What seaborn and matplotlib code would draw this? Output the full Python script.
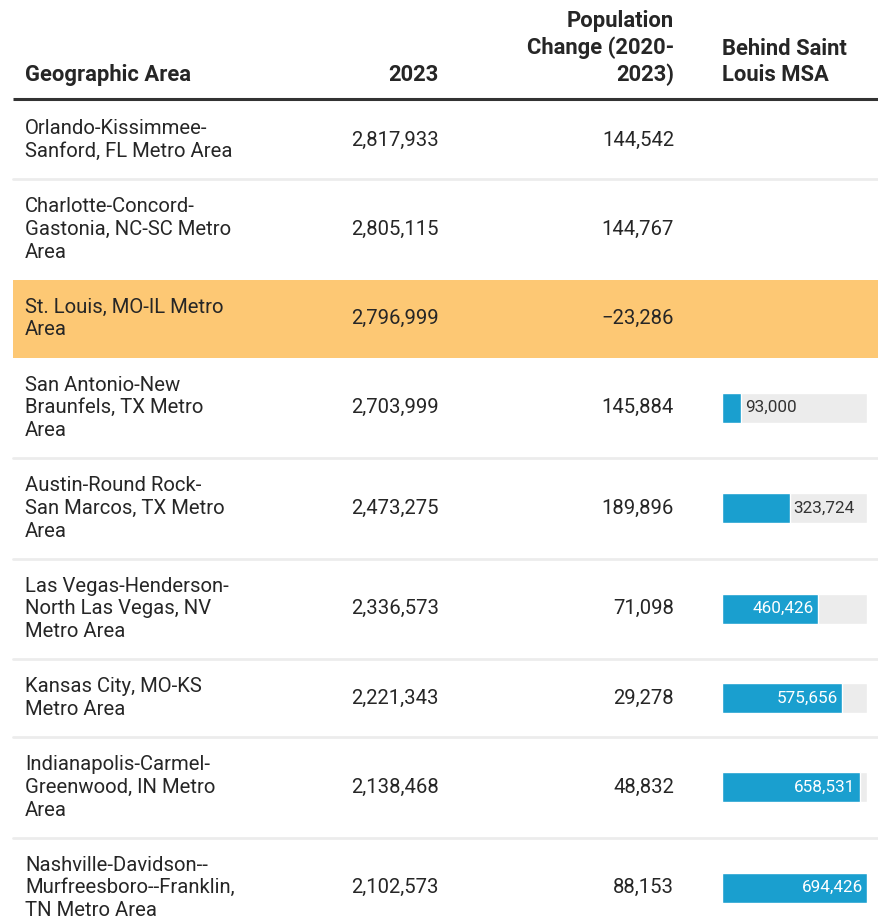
import matplotlib
matplotlib.use("Agg")
import matplotlib.pyplot as plt
import seaborn as sns
import numpy as np
import pandas as pd

# ---- data ----
areas = [
    "Orlando-Kissimmee-\nSanford, FL Metro Area",
    "Charlotte-Concord-\nGastonia, NC-SC Metro\nArea",
    "St. Louis, MO-IL Metro\nArea",
    "San Antonio-New\nBraunfels, TX Metro\nArea",
    "Austin-Round Rock-\nSan Marcos, TX Metro\nArea",
    "Las Vegas-Henderson-\nNorth Las Vegas, NV\nMetro Area",
    "Kansas City, MO-KS\nMetro Area",
    "Indianapolis-Carmel-\nGreenwood, IN Metro\nArea",
    "Nashville-Davidson--\nMurfreesboro--Franklin,\nTN Metro Area",
]
pop_2023 = [2817933, 2805115, 2796999, 2703999, 2473275, 2336573, 2221343, 2138468, 2102573]
pop_change = [144542, 144767, -23286, 145884, 189896, 71098, 29278, 48832, 88153]
behind_stl = [None, None, None, 93000, 323724, 460426, 575656, 658531, 694426]
highlight_row = 2
headers = ["Geographic Area", "2023", "Population\nChange (2020-\n2023)", "Behind Saint\nLouis MSA"]

# ---- style ----
sns.set_theme(style="white")
plt.rcParams["font.family"] = ["Roboto", "DejaVu Sans"]

W, H = 879, 921
fig = plt.figure(figsize=(W / 100, H / 100), dpi=100)
ax = fig.add_axes([0, 0, 1, 1])
ax.set_xlim(0, W)
ax.set_ylim(H, 0)
ax.axis("off")

TXT = "#262626"
BLUE = "#1a9fcf"
GREY_BG = "#ececec"
HL = "#fdc874"
SEP = "#ececec"

x_left, x_right = 13, W
col_name_x = 25
col_2023_x = 439
col_change_x = 674
bar_x0, bar_x1 = 722, 867
body_fs = 14.6
head_fs = 15.8

# header
head_bottom = 86
hl_sp = 1.26
ax.text(col_name_x, head_bottom, headers[0], ha="left", va="bottom", fontsize=head_fs,
        fontweight="bold", color=TXT)
ax.text(col_2023_x, head_bottom, headers[1], ha="right", va="bottom", fontsize=head_fs,
        fontweight="bold", color=TXT)
ax.text(col_change_x, head_bottom, headers[2], ha="right", va="bottom", fontsize=head_fs,
        fontweight="bold", color=TXT, multialignment="right", linespacing=hl_sp)
ax.text(bar_x0, head_bottom, headers[3], ha="left", va="bottom", fontsize=head_fs,
        fontweight="bold", color=TXT, linespacing=hl_sp)
ax.plot([x_left, x_right], [99.5, 99.5], color="#333333", lw=2.2, solid_capstyle="butt")

# row layout
y = 101
centers = []
for i, name in enumerate(areas):
    n = name.count("\n") + 1
    h = 22.5 * n + 33
    top, bot = y, y + h
    c = (top + bot) / 2
    centers.append(c)
    if i == highlight_row:
        ax.fill_between([x_left, x_right], top, bot, color=HL, lw=0, zorder=2)
    elif i + 1 != highlight_row:
        ax.plot([x_left, x_right], [bot, bot], color=SEP, lw=2, zorder=1)
    ax.text(col_name_x, c, name, ha="left", va="center", fontsize=body_fs, color=TXT,
            linespacing=1.25, zorder=3)
    ax.text(col_2023_x, c, f"{pop_2023[i]:,}", ha="right", va="center", fontsize=body_fs,
            color=TXT, zorder=3)
    ch = pop_change[i]
    ch_s = f"{ch:,}" if ch >= 0 else "\u2212" + f"{-ch:,}"
    ax.text(col_change_x, c, ch_s, ha="right", va="center", fontsize=body_fs, color=TXT,
            zorder=3)
    y = bot

# bars column
bax = fig.add_axes([bar_x0 / W, 0, (bar_x1 - bar_x0) / W, 1])
bax.set_ylim(H, 0)
vmax = max(v for v in behind_stl if v is not None)
df = pd.DataFrame({"center": centers, "behind": behind_stl}).dropna()
df["full"] = vmax
spacing = np.min(np.diff(df["center"].values))
bar_h = 30
sns.barplot(data=df, x="full", y="center", orient="y", native_scale=True,
            width=bar_h / spacing, color=GREY_BG, saturation=1, ax=bax)
sns.barplot(data=df, x="behind", y="center", orient="y", native_scale=True,
            width=bar_h / spacing, color=BLUE, saturation=1, ax=bax)
bax.set_xlim(0, vmax)
bax.set_ylim(H, 0)
bax.axis("off")
bax.patch.set_alpha(0)
pad = vmax * 4 / (bar_x1 - bar_x0)
for _, r in df.iterrows():
    v = r["behind"]
    if v / vmax < 0.6:
        bax.text(v + pad, r["center"], f"{int(v):,}", ha="left", va="center",
                 fontsize=12.3, color="#333333")
    else:
        bax.text(v - pad, r["center"], f"{int(v):,}", ha="right", va="center",
                 fontsize=12.3, color="white")

fig.savefig("out.png", dpi=100, facecolor="white")
